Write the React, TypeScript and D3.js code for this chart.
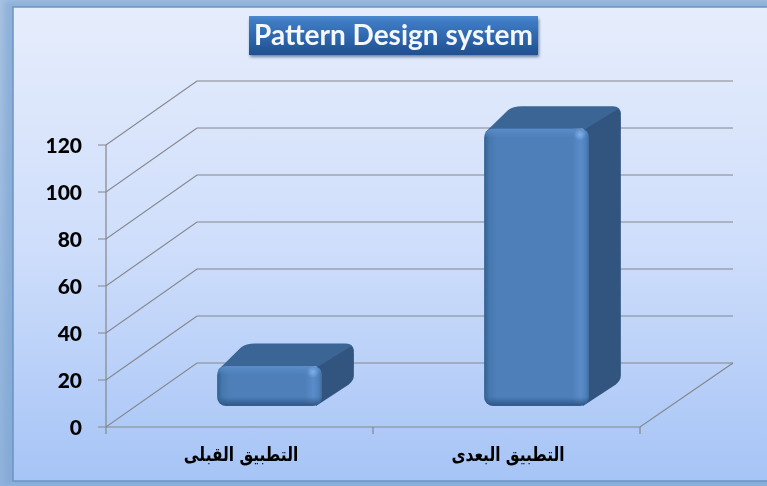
import React from "react";
import * as d3 from "d3";

const W = 767, H = 486;
const categories = ["التطبيق القبلى", "التطبيق البعدى"];
const values = [17, 118];
const ticks = [0, 20, 40, 60, 80, 100, 120];
const titleText = "Pattern Design system";

const X0 = 106, X1 = 640, Y0 = 427, Y120 = 145;
const DX = 91, DY = -64;
const BAR_DEPTH = 0.35;

const x = d3.scaleBand<string>().domain(categories).range([X0, X1]).paddingInner(0).paddingOuter(0);
const y = d3.scaleLinear().domain([0, 120]).range([Y0, Y120]);
const line = d3.line();

function Bar({ cat, value }: { cat: string; value: number }) {
  const band = x.bandwidth();
  const w = band * 0.393;
  const cx = (x(cat) as number) + band / 2;
  const fx0 = cx - w / 2 + DX * 0.33;
  const fx1 = fx0 + w;
  const by = y(0) + DY * 0.33;
  const ty = y(value) + DY * 0.33;
  const ddx = DX * BAR_DEPTH;
  const ddy = DY * BAR_DEPTH;
  const r = 9;
  const clipId = `f${categories.indexOf(cat)}`;
  const h = by - ty;
  const top = `M${fx0 + 1},${ty + 4} L${fx0 + ddx - 8},${ty + ddy + 4} Q${fx0 + ddx - 3},${ty + ddy} ${fx0 + ddx + 6},${ty + ddy} L${fx1 + ddx - 8},${ty + ddy} Q${fx1 + ddx},${ty + ddy} ${fx1 + ddx},${ty + ddy + 8} L${fx1 - 2},${ty + 6} L${fx1 - 6},${ty} Z`;
  const side = `M${fx1 - 6},${ty + 2} L${fx1 + ddx - 3},${ty + ddy + 3} Q${fx1 + ddx},${ty + ddy + 4} ${fx1 + ddx},${ty + ddy + 10} L${fx1 + ddx},${by + ddy - 8} Q${fx1 + ddx},${by + ddy - 3} ${fx1 + ddx - 5},${by + ddy + 1} L${fx1 - 6},${by} Z`;
  return (
    <g>
      <path d={top} fill="#3a6595" />
      <path d={side} fill="#31547f" />
      <clipPath id={clipId}>
        <rect x={fx0} y={ty} width={w} height={h} rx={r} ry={r} />
      </clipPath>
      <g clipPath={`url(#${clipId})`}>
        <rect x={fx0} y={ty} width={w} height={h} fill="url(#faceH)" />
        <rect x={fx0} y={ty} width={w} height={Math.min(9, h / 2)} fill="url(#edgeTop)" />
        <rect x={fx0} y={by - 9} width={w} height={9} fill="url(#edgeBottom)" />
        <circle cx={fx1 - 9} cy={ty + 6} r={6} fill="url(#spec)" />
      </g>
    </g>
  );
}

export default function App() {
  return (
    <svg width={W} height={H} viewBox={`0 0 ${W} ${H}`} style={{ position: "absolute", left: 0, top: 0, display: "block" }}>
      <defs>
        <linearGradient id="bg" x1="0" y1="0" x2="0" y2="1">
          <stop offset="0" stopColor="#e6edfc" />
          <stop offset="0.5" stopColor="#cfdefb" />
          <stop offset="1" stopColor="#a6c4f6" />
        </linearGradient>
        <linearGradient id="outer" x1="0" y1="0" x2="0" y2="1">
          <stop offset="0" stopColor="#a9c3e2" />
          <stop offset="1" stopColor="#8fb3dc" />
        </linearGradient>
        <linearGradient id="titleFill" x1="0" y1="0" x2="0" y2="1">
          <stop offset="0" stopColor="#4f8ad0" />
          <stop offset="0.12" stopColor="#3f7cc4" />
          <stop offset="0.55" stopColor="#2f66ad" />
          <stop offset="1" stopColor="#1f4f8f" />
        </linearGradient>
        <linearGradient id="faceH" x1="0" y1="0" x2="1" y2="0">
          <stop offset="0" stopColor="#32608f" />
          <stop offset="0.05" stopColor="#4677ae" />
          <stop offset="0.12" stopColor="#4f7fb9" />
          <stop offset="0.84" stopColor="#4f7fb9" />
          <stop offset="0.92" stopColor="#5a8cca" />
          <stop offset="0.97" stopColor="#4f80bb" />
          <stop offset="1" stopColor="#3f6c9f" />
        </linearGradient>
        <linearGradient id="edgeTop" x1="0" y1="0" x2="0" y2="1">
          <stop offset="0" stopColor="#5a8cca" stopOpacity="1" />
          <stop offset="1" stopColor="#5a8cca" stopOpacity="0" />
        </linearGradient>
        <linearGradient id="edgeBottom" x1="0" y1="0" x2="0" y2="1">
          <stop offset="0" stopColor="#2c5585" stopOpacity="0" />
          <stop offset="1" stopColor="#2c5585" stopOpacity="1" />
        </linearGradient>
        <radialGradient id="spec">
          <stop offset="0" stopColor="#7fb0ea" stopOpacity="1" />
          <stop offset="1" stopColor="#7fb0ea" stopOpacity="0" />
        </radialGradient>
        <filter id="soft" x="-5%" y="-5%" width="110%" height="110%">
          <feGaussianBlur stdDeviation="0.5" />
        </filter>
        <filter id="glow" x="-5%" y="-5%" width="110%" height="110%">
          <feGaussianBlur stdDeviation="3" />
        </filter>
        <filter id="shadow" x="-5%" y="-20%" width="110%" height="150%">
          <feGaussianBlur stdDeviation="1.5" />
        </filter>
      </defs>

      <rect x={0} y={0} width={W} height={H} fill="url(#outer)" />
      <rect x={4} y={0} width={W} height={H - 2} fill="#7ea4d2" filter="url(#glow)" opacity={0.6} />
      <rect x={13} y={7} width={W} height={474} fill="url(#bg)" stroke="#6b94c4" strokeWidth={1.5} />

      <g filter="url(#soft)">
        <g stroke="#83878c" strokeWidth={1.2} fill="none">
          {ticks.map((t) => (
            <path key={t} d={line([[X0 - 8, y(t)], [X0, y(t)], [X0 + DX, y(t) + DY], [X1 + DX + 2, y(t) + DY]]) as string} />
          ))}
          <path d={line([[X0, y(0)], [X0, y(120)]]) as string} />
          <path d={line([[X0, y(0)], [X1, y(0)], [X1 + DX + 2, y(0) + DY]]) as string} />
          {[X0, (X0 + X1) / 2, X1].map((tx) => (
            <path key={tx} d={line([[tx, Y0], [tx, Y0 + 7]]) as string} />
          ))}
        </g>
        {categories.map((c, i) => (
          <Bar key={c} cat={c} value={values[i]} />
        ))}
        {ticks.map((t) => (
          <text key={t} x={82} y={y(t)} dy={7.5} textAnchor="end" fontFamily="Lato, 'Open Sans', sans-serif" fontWeight={900} fontSize={21} fill="#050505">
            {t}
          </text>
        ))}
        {categories.map((c) => (
          <text
            key={c}
            transform={`translate(${(x(c) as number) + x.bandwidth() / 2 + 1.5},461) scale(1,1.25)`}
            textAnchor="middle"
            direction="rtl"
            fontFamily="'DejaVu Sans', sans-serif"
            fontWeight={700}
            fontSize={15.4}
            fill="#050505"
          >
            {c}
          </text>
        ))}
      </g>

      <rect x={250} y={19} width={289} height={38} fill="#1d3d66" opacity={0.6} filter="url(#shadow)" />
      <rect x={249} y={16} width={289} height={39} fill="url(#titleFill)" />
      <text x={393.5} y={45} textAnchor="middle" fontFamily="Lato, 'Open Sans', sans-serif" fontWeight={700} fontSize={28} fill="#f4f8fd" filter="url(#soft)">
        {titleText}
      </text>
    </svg>
  );
}
